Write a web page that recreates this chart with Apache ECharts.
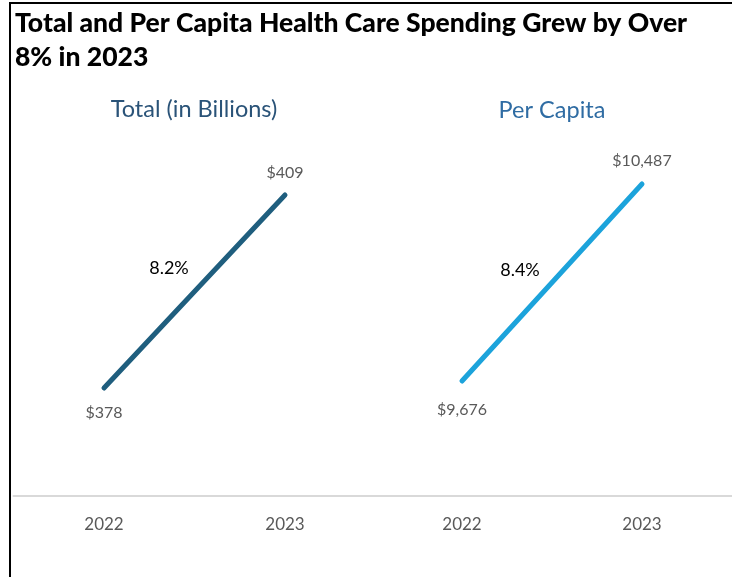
<!DOCTYPE html>
<html>
<head>
<meta charset="utf-8">
<script src="https://cdn.jsdelivr.net/npm/echarts@6/dist/echarts.min.js"></script>
<style>
  html, body { margin: 0; padding: 0; background: #fff; }
  #chart { width: 732px; height: 577px; }
</style>
</head>
<body>
<div id="chart"></div>
<script>
// Health care spending, 2022 vs 2023
const years = ['2022', '2023'];
const totalBillions = [378, 409];
const perCapita = [9676, 10487];
const totalLabels = ['$378', '$409'];
const perCapitaLabels = ['$9,676', '$10,487'];
const growthLabels = ['8.2%', '8.4%'];
const panelTitles = ['Total (in Billions)', 'Per Capita'];

const chart = echarts.init(document.getElementById('chart'));

const valueFont = { fontFamily: 'Lato', fontSize: 16, color: '#595959' };

function endpointData(values, labels, dist) {
  return values.map((v, i) => ({
    value: v,
    label: {
      show: true,
      position: i === 0 ? 'bottom' : 'top',
      distance: dist[i],
      formatter: labels[i],
      ...valueFont
    }
  }));
}

const option = {
  animation: false,
  backgroundColor: '#ffffff',
  grid: [
    { left: 13.5, width: 362, top: 96, height: 400 },
    { left: 372, width: 360, top: 96, height: 400 }
  ],
  xAxis: [0, 1].map(g => ({
    type: 'category',
    gridIndex: g,
    data: years,
    boundaryGap: true,
    axisLine: { show: true, lineStyle: { color: '#d9d9d9', width: 2 } },
    axisTick: { show: false },
    axisLabel: { margin: 20, fontFamily: 'Lato', fontSize: 17, color: '#595959' }
  })),
  yAxis: [
    { type: 'value', gridIndex: 0, min: 360.65, max: 424.9, show: false },
    { type: 'value', gridIndex: 1, min: 9202.6, max: 10849.3, show: false }
  ],
  series: [
    {
      type: 'line',
      xAxisIndex: 0, yAxisIndex: 0,
      data: endpointData(totalBillions, totalLabels, [16, 14]),
      symbol: 'circle', symbolSize: 1, showSymbol: true,
      itemStyle: { color: 'rgba(0,0,0,0)' },
      lineStyle: { color: '#1f5e7e', width: 5, cap: 'round' }
    },
    {
      type: 'line',
      xAxisIndex: 1, yAxisIndex: 1,
      data: endpointData(perCapita, perCapitaLabels, [20, 15]),
      symbol: 'circle', symbolSize: 1, showSymbol: true,
      itemStyle: { color: 'rgba(0,0,0,0)' },
      lineStyle: { color: '#1ca3db', width: 5, cap: 'round' }
    }
  ],
  graphic: [
    // frame lines along the top and left edges
    { type: 'rect', shape: { x: 9, y: 2, width: 723, height: 2 }, style: { fill: '#000' } },
    { type: 'rect', shape: { x: 9, y: 2, width: 2, height: 575 }, style: { fill: '#000' } },
    {
      type: 'text', left: 15, top: 6,
      style: {
        text: 'Total and Per Capita Health Care Spending Grew by Over\n8% in 2023',
        fontFamily: 'Lato', fontWeight: 900, fontSize: 26.5, lineHeight: 34, fill: '#000'
      }
    },
    {
      type: 'text', x: 194, y: 109,
      style: { text: panelTitles[0], align: 'center', verticalAlign: 'middle',
        fontFamily: 'Lato', fontSize: 23.5, fill: '#2a5378' }
    },
    {
      type: 'text', x: 552, y: 110,
      style: { text: panelTitles[1], align: 'center', verticalAlign: 'middle',
        fontFamily: 'Lato', fontSize: 23.5, fill: '#2f6ca3' }
    },
    {
      type: 'text', x: 169, y: 268,
      style: { text: growthLabels[0], align: 'center', verticalAlign: 'middle',
        fontFamily: 'Lato', fontSize: 18, fill: '#000' }
    },
    {
      type: 'text', x: 520, y: 270,
      style: { text: growthLabels[1], align: 'center', verticalAlign: 'middle',
        fontFamily: 'Lato', fontSize: 18, fill: '#000' }
    }
  ]
};

chart.setOption(option);
</script>
</body>
</html>
